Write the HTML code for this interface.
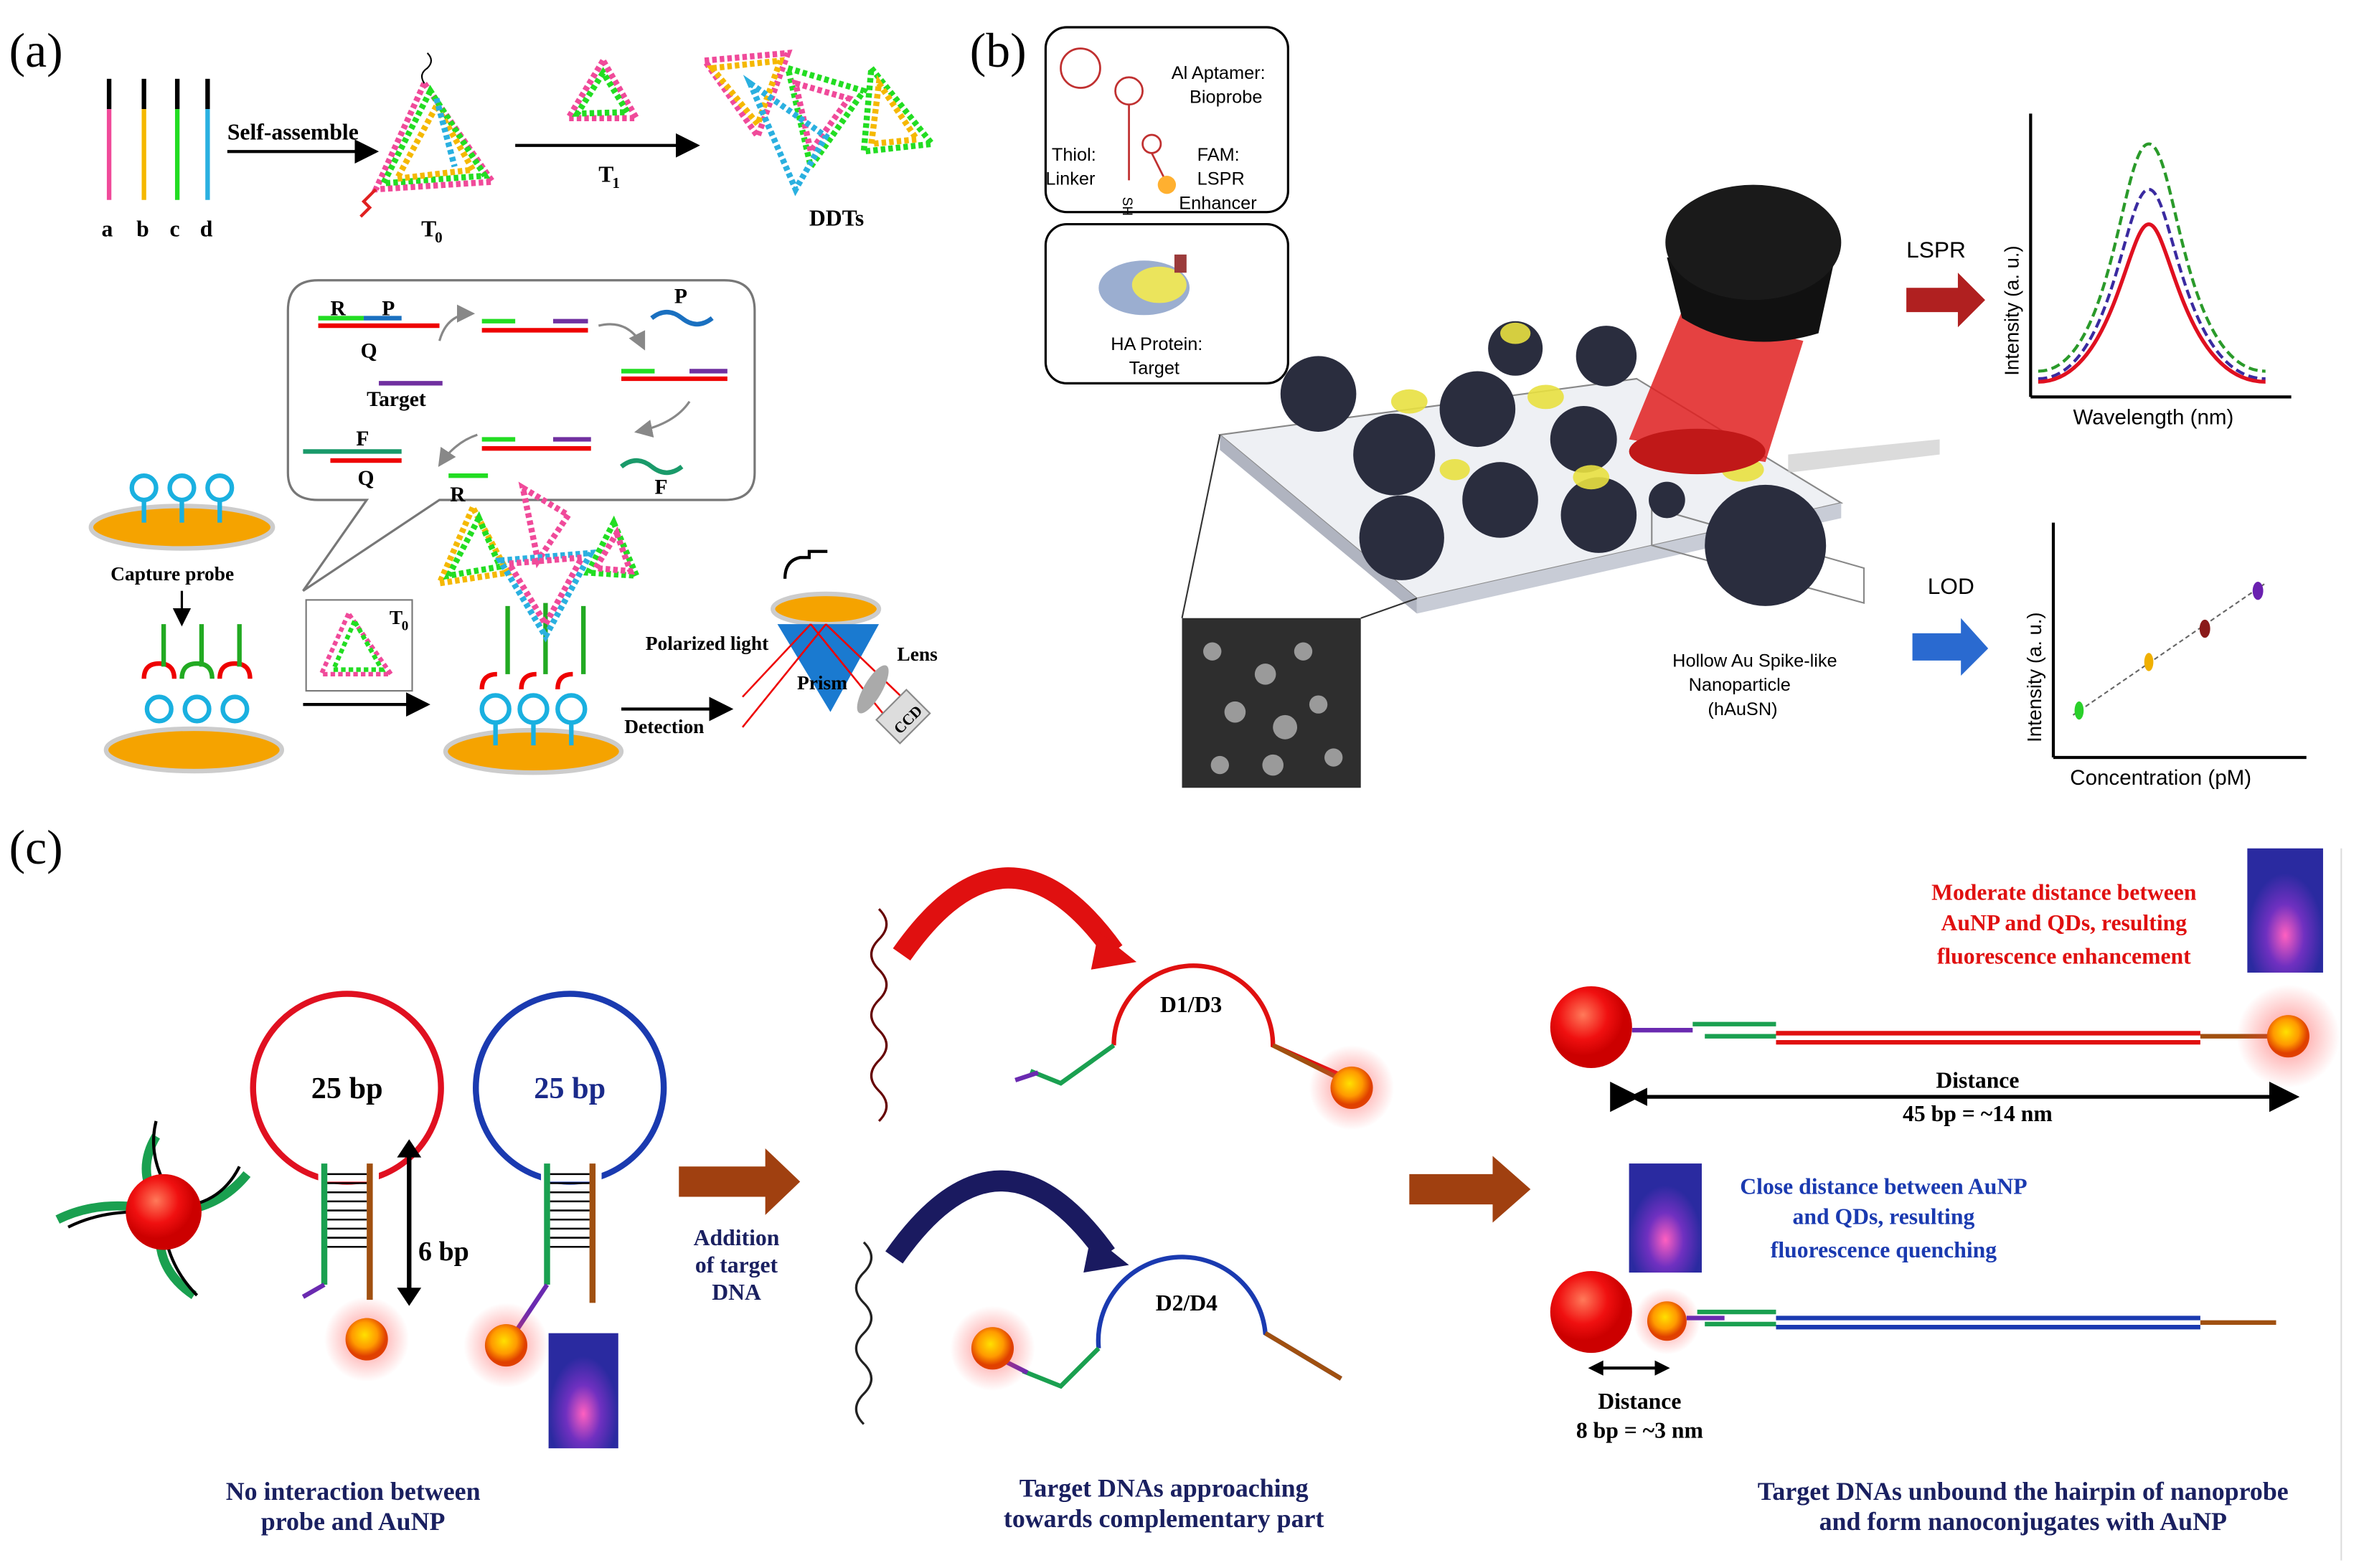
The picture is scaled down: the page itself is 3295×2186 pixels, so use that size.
<!DOCTYPE html>
<html><head><meta charset="utf-8"><style>
html,body{margin:0;padding:0;background:#fff}
svg{display:block}
.s{font-family:"Liberation Serif",serif;font-weight:bold}
.a{font-family:"Liberation Sans",sans-serif}
</style></head><body>
<svg width="3295" height="2186" viewBox="0 0 1560 1035" preserveAspectRatio="none" xmlns="http://www.w3.org/2000/svg">
<defs>
<marker id="ar" markerWidth="8" markerHeight="8" refX="7" refY="4" orient="auto"><path d="M0,0 L8,4 L0,8z" fill="#000"/></marker>
<marker id="ag" markerWidth="8" markerHeight="8" refX="7" refY="4" orient="auto"><path d="M0,0 L8,4 L0,8z" fill="#888"/></marker>
<radialGradient id="rb" cx="40%" cy="35%"><stop offset="0" stop-color="#ff7a5a"/><stop offset="0.6" stop-color="#f01010"/><stop offset="1" stop-color="#c00"/></radialGradient>
<radialGradient id="qd" cx="45%" cy="40%"><stop offset="0" stop-color="#ffe000"/><stop offset="0.6" stop-color="#ff9a00"/><stop offset="1" stop-color="#e04000"/></radialGradient>
<radialGradient id="gl" ><stop offset="0" stop-color="#ff4040" stop-opacity="0.6"/><stop offset="1" stop-color="#ff4040" stop-opacity="0"/></radialGradient>
<radialGradient id="tube" cx="50%" cy="70%"><stop offset="0" stop-color="#ff60c0"/><stop offset="0.5" stop-color="#7030c0"/><stop offset="1" stop-color="#2a2aa0"/></radialGradient>
<linearGradient id="rarrow" x1="0" x2="1"><stop offset="0" stop-color="#d03020"/><stop offset="1" stop-color="#e03020"/></linearGradient>
</defs>
<rect width="1560" height="1035" fill="#fff"/>

<!-- (a) -->
<text x="6" y="44" font-family="Liberation Serif,serif" font-size="32">(a)</text>
<g stroke-width="3">
<line x1="72" y1="52" x2="72" y2="72" stroke="#000"/><line x1="72" y1="72" x2="72" y2="132" stroke="#f04a9a"/>
<line x1="95" y1="52" x2="95" y2="72" stroke="#000"/><line x1="95" y1="72" x2="95" y2="132" stroke="#f5b800"/>
<line x1="117" y1="52" x2="117" y2="72" stroke="#000"/><line x1="117" y1="72" x2="117" y2="132" stroke="#22dd22"/>
<line x1="137" y1="52" x2="137" y2="72" stroke="#000"/><line x1="137" y1="72" x2="137" y2="132" stroke="#2ab0e0"/>
</g>
<g class="s" font-size="15"><text x="67" y="156">a</text><text x="90" y="156">b</text><text x="112" y="156">c</text><text x="132" y="156">d</text></g>
<text x="150" y="92" class="s" font-size="15">Self-assemble</text>
<line x1="150" y1="100" x2="248" y2="100" stroke="#000" stroke-width="2" marker-end="url(#ar)"/>
<g fill="none" stroke-width="4" stroke-dasharray="3 2">
<polygon points="280,55 248,125 325,120" stroke="#f04a9a"/><polygon points="284,60 253,121 320,116" stroke="#22dd22"/><polygon points="288,70 262,118 312,112" stroke="#f5b800"/><line x1="288" y1="65" x2="300" y2="110" stroke="#2ab0e0"/>
</g>
<path d="M280,55 q-4,-6 2,-10 q5,-5 0,-10" stroke="#000" fill="none"/>
<path d="M248,125 l-8,8 l4,4 l-6,6" stroke="#e02020" fill="none" stroke-width="2"/>
<text x="278" y="156" class="s" font-size="15">T</text><text x="287" y="160" class="s" font-size="10">0</text>
<line x1="340" y1="96" x2="460" y2="96" stroke="#000" stroke-width="2" marker-end="url(#ar)"/>
<g fill="none" stroke-width="4" stroke-dasharray="3 2"><polygon points="398,40 375,78 420,78" stroke="#f04a9a"/><polygon points="398,48 381,75 414,74" stroke="#22dd22"/></g>
<text x="395" y="120" class="s" font-size="15">T</text><text x="404" y="124" class="s" font-size="10">1</text>
<g fill="none" stroke-width="4" stroke-dasharray="3 2">
<polygon points="465,40 520,35 500,90" stroke="#f04a9a"/><polygon points="470,45 515,40 500,82" stroke="#f5b800"/>
<polygon points="520,45 570,60 535,110" stroke="#22dd22"/><polygon points="525,55 560,65 535,100" stroke="#f04a9a"/>
<polygon points="575,45 615,95 570,100" stroke="#22dd22"/><polygon points="580,55 605,92 575,95" stroke="#f5b800"/>
<polygon points="495,55 545,90 525,125" stroke="#2ab0e0"/>
</g>
<text x="534" y="149" class="s" font-size="15">DDTs</text>

<!-- callout -->
<path d="M210,185 H478 Q498,185 498,205 V312 Q498,330 478,330 H290 L200,390 L242,330 H210 Q190,330 190,312 V205 Q190,185 210,185z" fill="#fff" stroke="#777" stroke-width="1.5"/>
<g stroke-width="3">
<line x1="210" y1="215" x2="290" y2="215" stroke="#e00"/><line x1="210" y1="210" x2="240" y2="210" stroke="#2d2"/><line x1="240" y1="210" x2="265" y2="210" stroke="#1a70c0"/>
<line x1="318" y1="218" x2="388" y2="218" stroke="#e00"/><line x1="318" y1="212" x2="340" y2="212" stroke="#2d2"/><line x1="365" y1="212" x2="388" y2="212" stroke="#7030a0"/>
<line x1="410" y1="250" x2="480" y2="250" stroke="#e00"/><line x1="410" y1="245" x2="432" y2="245" stroke="#2d2"/><line x1="455" y1="245" x2="480" y2="245" stroke="#7030a0"/>
<line x1="318" y1="296" x2="390" y2="296" stroke="#e00"/><line x1="318" y1="290" x2="340" y2="290" stroke="#2d2"/><line x1="365" y1="290" x2="390" y2="290" stroke="#7030a0"/>
<line x1="200" y1="298" x2="265" y2="298" stroke="#1a9a6a"/><line x1="218" y1="304" x2="265" y2="304" stroke="#e00"/>
<line x1="248" y1" y2="0" stroke="none"/>
<line x1="250" y1="253" x2="292" y2="253" stroke="#7030a0"/><line x1="296" y1="314" x2="322" y2="314" stroke="#2d2"/>
</g>
<path d="M430,210 q10,-8 20,0 t20,0" stroke="#1a70c0" stroke-width="3" fill="none"/>
<path d="M410,308 q10,-8 20,0 t20,0" stroke="#1a9a6a" stroke-width="3" fill="none"/>
<g stroke="#888" stroke-width="1.5" fill="none">
<path d="M290,225 q5,-18 22,-18" marker-end="url(#ag)"/><path d="M395,215 q20,-5 30,15" marker-end="url(#ag)"/>
<path d="M455,265 q-10,15 -35,20" marker-end="url(#ag)"/><path d="M315,287 q-15,5 -25,20" marker-end="url(#ag)"/>
</g>
<g class="s" font-size="14"><text x="218" y="208">R</text><text x="252" y="208">P</text><text x="238" y="236">Q</text><text x="242" y="268">Target</text><text x="445" y="200">P</text><text x="235" y="294">F</text><text x="236" y="320">Q</text><text x="297" y="331">R</text><text x="432" y="326">F</text></g>

<!-- capture probes -->
<ellipse cx="120" cy="348" rx="60" ry="14" fill="#f5a300" stroke="#ccc" stroke-width="3"/>
<g fill="none" stroke="#1ab0e0" stroke-width="3">
<circle cx="95" cy="322" r="8"/><circle cx="120" cy="322" r="8"/><circle cx="145" cy="322" r="8"/>
<line x1="95" y1="330" x2="95" y2="345"/><line x1="120" y1="330" x2="120" y2="345"/><line x1="145" y1="330" x2="145" y2="345"/>
</g>
<text x="73" y="383" class="s" font-size="13">Capture probe</text>
<line x1="120" y1="390" x2="120" y2="412" stroke="#000" stroke-width="1.5" marker-end="url(#ar)"/>
<g id="probes">
<ellipse cx="128" cy="495" rx="58" ry="14" fill="#f5a300" stroke="#ccc" stroke-width="3"/>
<g fill="none" stroke-width="3">
<circle cx="105" cy="468" r="8" stroke="#1ab0e0"/><circle cx="130" cy="468" r="8" stroke="#1ab0e0"/><circle cx="155" cy="468" r="8" stroke="#1ab0e0"/>
<path d="M95,448 q0,-10 10,-10 q10,0 10,10" stroke="#e00"/><path d="M120,448 q0,-10 10,-10 q10,0 10,10" stroke="#2a2"/><path d="M145,448 q0,-10 10,-10 q10,0 10,10" stroke="#e00"/>
<line x1="108" y1="440" x2="108" y2="412" stroke="#2a2"/><line x1="133" y1="440" x2="133" y2="412" stroke="#2a2"/><line x1="158" y1="440" x2="158" y2="412" stroke="#2a2"/>
</g></g>
<rect x="202" y="396" width="70" height="60" fill="#fff" stroke="#777"/>
<g fill="none" stroke-width="3" stroke-dasharray="3 2"><polygon points="230,405 212,445 258,445" stroke="#f04a9a"/><polygon points="234,410 220,442 252,442" stroke="#22dd22"/></g>
<text x="257" y="412" class="s" font-size="13">T</text><text x="265" y="416" class="s" font-size="9">0</text>
<line x1="200" y1="465" x2="282" y2="465" stroke="#000" stroke-width="2" marker-end="url(#ar)"/>
<ellipse cx="352" cy="496" rx="58" ry="14" fill="#f5a300" stroke="#ccc" stroke-width="3"/>
<g fill="none" stroke-width="3">
<circle cx="327" cy="468" r="9" stroke="#1ab0e0"/><circle cx="352" cy="468" r="9" stroke="#1ab0e0"/><circle cx="377" cy="468" r="9" stroke="#1ab0e0"/>
<line x1="327" y1="477" x2="327" y2="492" stroke="#1ab0e0"/><line x1="352" y1="477" x2="352" y2="492" stroke="#1ab0e0"/><line x1="377" y1="477" x2="377" y2="492" stroke="#1ab0e0"/>
<path d="M318,455 q0,-10 10,-10" stroke="#e00"/><path d="M344,455 q0,-10 10,-10" stroke="#e00"/><path d="M368,455 q0,-10 10,-10" stroke="#e00"/>
<line x1="335" y1="445" x2="335" y2="400" stroke="#2a2"/><line x1="360" y1="445" x2="360" y2="398" stroke="#2a2"/><line x1="385" y1="445" x2="385" y2="400" stroke="#2a2"/>
</g>
<g fill="none" stroke-width="4" stroke-dasharray="3 2">
<polygon points="312,335 290,385 335,378" stroke="#f5b800"/><polygon points="316,342 296,380 330,374" stroke="#22dd22"/>
<polygon points="345,322 375,340 355,370" stroke="#f04a9a"/><polygon points="330,370 390,365 360,420" stroke="#2ab0e0"/><polygon points="336,372 384,368 360,412" stroke="#f04a9a"/>
<polygon points="405,345 420,380 388,378" stroke="#22dd22"/><polygon points="407,352 416,377 393,375" stroke="#f04a9a"/>
</g>
<line x1="410" y1="468" x2="482" y2="468" stroke="#000" stroke-width="2" marker-end="url(#ar)"/>
<text x="412" y="484" class="s" font-size="13">Detection</text>
<!-- SPR setup -->
<ellipse cx="545" cy="402" rx="35" ry="10" fill="#f5a300" stroke="#ccc" stroke-width="3"/>
<path d="M518,382 q0,-12 10,-14 h6 v-4 h12" stroke="#000" fill="none" stroke-width="2"/>
<polygon points="513,412 580,412 548,470" fill="#1a7ad0"/>
<g stroke="#e00" stroke-width="1.2"><line x1="490" y1="460" x2="535" y2="412"/><line x1="490" y1="480" x2="545" y2="412"/><line x1="535" y1="412" x2="590" y2="480"/><line x1="545" y1="412" x2="595" y2="460"/></g>
<ellipse cx="576" cy="455" rx="6" ry="18" fill="#aaa" transform="rotate(30 576 455)"/>
<rect x="582" y="462" width="28" height="22" fill="#ddd" stroke="#888" transform="rotate(-45 596 473)"/>
<text x="586" y="480" class="s" font-size="10" transform="rotate(-45 596 473)">CCD</text>
<text x="426" y="429" class="s" font-size="13">Polarized light</text>
<text x="592" y="436" class="s" font-size="13">Lens</text>
<text x="526" y="455" class="s" font-size="13">Prism</text>

<!-- (b) -->
<text x="640" y="44" font-family="Liberation Serif,serif" font-size="32">(b)</text>
<rect x="690" y="18" width="160" height="122" rx="14" fill="#fff" stroke="#000" stroke-width="1.5"/>
<rect x="690" y="148" width="160" height="105" rx="14" fill="#fff" stroke="#000" stroke-width="1.5"/>
<g fill="none" stroke="#c03030" stroke-width="1.3"><circle cx="713" cy="45" r="13"/><circle cx="745" cy="60" r="9"/><circle cx="760" cy="95" r="6"/><path d="M745,69 v50"/><path d="M760,101 l10,20"/></g>
<circle cx="770" cy="122" r="6" fill="#ffb030"/>
<text x="741" y="130" class="a" font-size="9" transform="rotate(90 741 130)">SH</text>
<g class="a" font-size="12" text-anchor="end"><text x="835" y="52">Al Aptamer:</text><text x="833" y="68">Bioprobe</text></g>
<g class="a" font-size="12"><text x="694" y="106">Thiol:</text><text x="690" y="122">Linker</text><text x="790" y="106">FAM:</text><text x="790" y="122">LSPR</text><text x="778" y="138">Enhancer</text>
<text x="733" y="231">HA Protein:</text><text x="745" y="247">Target</text></g>
<g opacity="0.85"><ellipse cx="755" cy="190" rx="30" ry="18" fill="#8aa0c8"/><ellipse cx="765" cy="188" rx="18" ry="12" fill="#e8e040"/><rect x="775" y="168" width="8" height="12" fill="#8a1a1a"/></g>
<!-- slide -->
<polygon points="805,287 1080,250 1215,332 935,395" fill="#eef0f4" stroke="#888"/>
<polygon points="805,287 935,395 935,405 805,297" fill="#b0b4c0"/>
<polygon points="935,395 1215,332 1215,342 935,405" fill="#c8ccd6"/>
<polygon points="1090,335 1230,375 1230,398 1090,360" fill="none" stroke="#888"/>
<g fill="#2a2d3e">
<circle cx="870" cy="260" r="25"/><circle cx="920" cy="300" r="27"/><circle cx="975" cy="270" r="25"/><circle cx="925" cy="355" r="28"/><circle cx="990" cy="330" r="25"/><circle cx="1055" cy="340" r="25"/><circle cx="1045" cy="290" r="22"/><circle cx="1060" cy="235" r="20"/><circle cx="1000" cy="230" r="18"/><circle cx="1100" cy="330" r="12"/><circle cx="1165" cy="360" r="40"/>
</g>
<g fill="#e8e040" opacity="0.9"><ellipse cx="930" cy="265" rx="12" ry="8"/><ellipse cx="1020" cy="262" rx="12" ry="8"/><ellipse cx="960" cy="310" rx="10" ry="7"/><ellipse cx="1050" cy="315" rx="12" ry="8"/><ellipse cx="1000" cy="220" rx="10" ry="7"/><ellipse cx="1150" cy="310" rx="14" ry="8"/></g>
<polygon points="1180,300 1280,290 1280,300 1180,312" fill="#ccc" opacity="0.7"/>
<!-- light source -->
<polygon points="1075,290 1110,205 1190,225 1165,305" fill="#e02020" opacity="0.85"/>
<ellipse cx="1120" cy="298" rx="45" ry="15" fill="#c01818"/>
<path d="M1100,170 L1110,210 Q1150,235 1200,220 L1212,165z" fill="#111"/>
<ellipse cx="1157" cy="160" rx="58" ry="38" fill="#1a1a1a"/>
<!-- SEM inset -->
<line x1="780" y1="408" x2="805" y2="287" stroke="#333"/><line x1="898" y1="408" x2="935" y2="395" stroke="#333"/>
<rect x="780" y="408" width="118" height="112" fill="#2e2e2e"/>
<g fill="#9a9a9a"><circle cx="800" cy="430" r="6"/><circle cx="835" cy="445" r="7"/><circle cx="860" cy="430" r="6"/><circle cx="815" cy="470" r="7"/><circle cx="848" cy="480" r="8"/><circle cx="870" cy="465" r="6"/><circle cx="880" cy="500" r="6"/><circle cx="805" cy="505" r="6"/><circle cx="840" cy="505" r="7"/></g>
<g class="a" font-size="12" text-anchor="middle"><text x="1158" y="440">Hollow Au Spike-like</text><text x="1148" y="456">Nanoparticle</text><text x="1150" y="472">(hAuSN)</text></g>
<!-- LSPR graph -->
<text x="1258" y="170" class="a" font-size="15">LSPR</text>
<polygon points="1258,190 1292,190 1292,180 1310,198 1292,216 1292,206 1258,206" fill="#b02020"/>
<line x1="1340" y1="75" x2="1340" y2="262" stroke="#000" stroke-width="2"/><line x1="1340" y1="262" x2="1512" y2="262" stroke="#000" stroke-width="2"/>
<text x="1332" y="248" class="a" font-size="13" transform="rotate(-90 1332 248)">Intensity (a. u.)</text>
<text x="1368" y="280" class="a" font-size="14">Wavelength (nm)</text>
<path d="M1345,245 C1395,245 1400,95 1418,95 C1436,95 1440,245 1495,245" stroke="#2a9a2a" stroke-width="2" fill="none" stroke-dasharray="6 3"/>
<path d="M1345,250 C1395,250 1402,125 1418,125 C1434,125 1440,250 1495,250" stroke="#3a2aa0" stroke-width="2" fill="none" stroke-dasharray="6 3"/>
<path d="M1345,252 C1395,252 1404,148 1418,148 C1432,148 1440,252 1495,252" stroke="#e01020" stroke-width="2.5" fill="none"/>
<!-- LOD graph -->
<text x="1272" y="392" class="a" font-size="15">LOD</text>
<polygon points="1262,418 1294,418 1294,408 1312,428 1294,446 1294,436 1262,436" fill="#2a6ad0"/>
<line x1="1355" y1="345" x2="1355" y2="500" stroke="#000" stroke-width="2"/><line x1="1355" y1="500" x2="1522" y2="500" stroke="#000" stroke-width="2"/>
<text x="1347" y="490" class="a" font-size="13" transform="rotate(-90 1347 490)">Intensity (a. u.)</text>
<text x="1366" y="518" class="a" font-size="14">Concentration (pM)</text>
<line x1="1368" y1="472" x2="1495" y2="385" stroke="#666" stroke-dasharray="3 2"/>
<ellipse cx="1372" cy="469" rx="3" ry="6" fill="#2ad02a"/><ellipse cx="1418" cy="437" rx="3" ry="6" fill="#f0b000"/><ellipse cx="1455" cy="415" rx="3.5" ry="6" fill="#8a1a1a"/><ellipse cx="1490" cy="390" rx="3.5" ry="6" fill="#6a20b0"/>

<!-- (c) -->
<text x="6" y="570" font-family="Liberation Serif,serif" font-size="32">(c)</text>
<line x1="1545" y1="560" x2="1545" y2="1030" stroke="#ddd"/>
<!-- AuNP with arms -->
<g stroke="#1aa050" stroke-width="6" fill="none">
<path d="M108,800 q-20,-25 -5,-50"/><path d="M108,800 q-40,-10 -70,5"/><path d="M108,800 q-10,35 20,55"/><path d="M108,800 q35,0 55,-25"/>
</g>
<g stroke="#000" stroke-width="2" fill="none"><path d="M108,780 q-10,-20 -5,-40"/><path d="M90,800 q-25,0 -45,10"/><path d="M110,820 q5,20 20,35"/><path d="M128,795 q20,-5 30,-25"/></g>
<circle cx="108" cy="800" r="25" fill="url(#rb)"/>
<!-- hairpins -->
<circle cx="229" cy="718" r="62" fill="#fff" stroke="#e01020" stroke-width="4"/>
<circle cx="376" cy="718" r="62" fill="#fff" stroke="#1a3ab0" stroke-width="4"/>
<rect x="210" y="760" width="40" height="20" fill="#fff"/><rect x="357" y="760" width="40" height="20" fill="#fff"/>
<path d="M214,768 v80" stroke="#1aa050" stroke-width="4"/><path d="M244,768 v90" stroke="#a05010" stroke-width="4"/>
<path d="M361,768 v80" stroke="#1aa050" stroke-width="4"/><path d="M391,768 v92" stroke="#a05010" stroke-width="4"/>
<g stroke="#000" stroke-width="1.2"><path d="M216,775h26M216,781h26M216,787h26M216,793h26M216,799h26M216,805h26M216,811h26M216,817h26M216,823h26"/>
<path d="M363,775h26M363,781h26M363,787h26M363,793h26M363,799h26M363,805h26M363,811h26M363,817h26M363,823h26"/></g>
<path d="M214,848 l-14,8" stroke="#6a2ab0" stroke-width="3"/><path d="M361,848 l-20,30" stroke="#6a2ab0" stroke-width="3"/>
<circle cx="242" cy="884" r="28" fill="url(#gl)"/><circle cx="242" cy="884" r="14" fill="url(#qd)"/>
<circle cx="334" cy="888" r="28" fill="url(#gl)"/><circle cx="334" cy="888" r="14" fill="url(#qd)"/>
<text x="229" y="725" text-anchor="middle" class="s" font-size="20" fill="#000">25 bp</text>
<text x="376" y="725" text-anchor="middle" class="s" font-size="20" fill="#1a2a8a">25 bp</text>
<line x1="270" y1="758" x2="270" y2="855" stroke="#000" stroke-width="3"/>
<path d="M270,752 l-8,12 h16z M270,862 l-8,-12 h16z" fill="#000"/>
<text x="276" y="832" class="s" font-size="18">6 bp</text>
<rect x="362" y="880" width="46" height="76" fill="url(#tube)"/>
<text x="233" y="990" text-anchor="middle" class="s" font-size="17" fill="#1a2060">No interaction between</text>
<text x="233" y="1010" text-anchor="middle" class="s" font-size="17" fill="#1a2060">probe and AuNP</text>
<!-- arrows -->
<polygon points="448,770 505,770 505,758 528,780 505,802 505,790 448,790" fill="#a04010"/>
<g class="s" font-size="15" fill="#1a2060" text-anchor="middle"><text x="486" y="822">Addition</text><text x="486" y="840">of target</text><text x="486" y="858">DNA</text></g>
<polygon points="930,775 985,775 985,763 1010,785 985,807 985,795 930,795" fill="#a04010"/>
<!-- middle -->
<path d="M580,600 q10,10 0,20 t0,20 t0,20 t0,20 t0,20 t0,20 t0,20" stroke="#600" stroke-width="1.5" fill="none"/>
<path d="M570,820 q10,10 0,20 t0,20 t0,20 t0,20 t0,20 t0,20" stroke="#222" stroke-width="1.5" fill="none"/>
<path d="M595,630 q70,-100 140,-2" stroke="#e01010" stroke-width="14" fill="none"/>
<path d="M725,615 l25,20 l-30,5z" fill="#e01010"/>
<path d="M590,830 q70,-100 140,-2" stroke="#1a1a60" stroke-width="14" fill="none"/>
<path d="M720,815 l25,20 l-30,5z" fill="#1a1a60"/>
<path d="M735,690 A50,50 0 1 1 840,690 l50,22" stroke="#e01010" stroke-width="3" fill="none"/>
<path d="M840,690 l50,25" stroke="#a05010" stroke-width="3"/>
<path d="M735,690 l-35,25 l-20,-8" stroke="#1aa050" stroke-width="3" fill="none"/><path d="M685,708 l-15,5" stroke="#6a2ab0" stroke-width="3"/>
<circle cx="892" cy="718" r="28" fill="url(#gl)"/><circle cx="892" cy="718" r="14" fill="url(#qd)"/>
<text x="786" y="668" text-anchor="middle" class="s" font-size="15">D1/D3</text>
<path d="M725,890 A55,55 0 1 1 835,880 l50,30" stroke="#1a3ab0" stroke-width="3" fill="none"/>
<path d="M835,880 l50,30" stroke="#a05010" stroke-width="3"/>
<path d="M725,890 l-25,25 l-25,-10" stroke="#1aa050" stroke-width="3" fill="none"/><path d="M678,906 l-20,-10" stroke="#6a2ab0" stroke-width="3"/>
<circle cx="655" cy="890" r="28" fill="url(#gl)"/><circle cx="655" cy="890" r="14" fill="url(#qd)"/>
<text x="783" y="865" text-anchor="middle" class="s" font-size="15">D2/D4</text>
<text x="768" y="988" text-anchor="middle" class="s" font-size="17" fill="#1a2060">Target DNAs approaching</text>
<text x="768" y="1008" text-anchor="middle" class="s" font-size="17" fill="#1a2060">towards complementary part</text>
<!-- right -->
<g class="s" font-size="15" fill="#e01010" text-anchor="middle"><text x="1362" y="594">Moderate distance between</text><text x="1362" y="614">AuNP and QDs, resulting</text><text x="1362" y="636">fluorescence enhancement</text></g>
<rect x="1483" y="560" width="50" height="82" fill="url(#tube)"/>
<circle cx="1050" cy="678" r="27" fill="url(#rb)"/>
<path d="M1077,680 h40" stroke="#6a2ab0" stroke-width="3"/>
<path d="M1117,676 h55 M1125,684 h47" stroke="#1aa050" stroke-width="3"/>
<path d="M1172,682 h280 M1172,688 h280" stroke="#e01010" stroke-width="3"/>
<path d="M1452,684 h45" stroke="#a05010" stroke-width="3"/>
<circle cx="1510" cy="684" r="34" fill="url(#gl)"/><circle cx="1510" cy="684" r="14" fill="url(#qd)"/>
<line x1="1080" y1="724" x2="1515" y2="724" stroke="#000" stroke-width="2.5" marker-end="url(#ar)" marker-start="url(#ar)"/>
<path d="M1075,724 l12,-6 v12z" fill="#000"/>
<text x="1305" y="718" text-anchor="middle" class="s" font-size="15">Distance</text>
<text x="1305" y="740" text-anchor="middle" class="s" font-size="15">45 bp = ~14 nm</text>
<rect x="1075" y="768" width="48" height="72" fill="url(#tube)"/>
<g class="s" font-size="15" fill="#1a3ab0" text-anchor="middle"><text x="1243" y="788">Close distance between AuNP</text><text x="1243" y="808">and QDs, resulting</text><text x="1243" y="830">fluorescence quenching</text></g>
<circle cx="1050" cy="866" r="27" fill="url(#rb)"/>
<circle cx="1100" cy="872" r="22" fill="url(#gl)"/><circle cx="1100" cy="872" r="13" fill="url(#qd)"/>
<path d="M1113,870 h25" stroke="#6a2ab0" stroke-width="3"/>
<path d="M1120,866 h52 M1125,874 h47" stroke="#1aa050" stroke-width="3"/>
<path d="M1172,870 h280 M1172,876 h280" stroke="#1a3ab0" stroke-width="3"/>
<path d="M1452,873 h50" stroke="#a05010" stroke-width="3"/>
<line x1="1052" y1="903" x2="1098" y2="903" stroke="#000" stroke-width="2"/>
<path d="M1048,903 l10,-5 v10z M1102,903 l-10,-5 v10z" fill="#000"/>
<text x="1082" y="930" text-anchor="middle" class="s" font-size="15">Distance</text>
<text x="1082" y="949" text-anchor="middle" class="s" font-size="15">8 bp = ~3 nm</text>
<text x="1335" y="990" text-anchor="middle" class="s" font-size="17" fill="#1a2060">Target DNAs unbound the hairpin of nanoprobe</text>
<text x="1335" y="1010" text-anchor="middle" class="s" font-size="17" fill="#1a2060">and form nanoconjugates with AuNP</text>
</svg>
</body></html>
